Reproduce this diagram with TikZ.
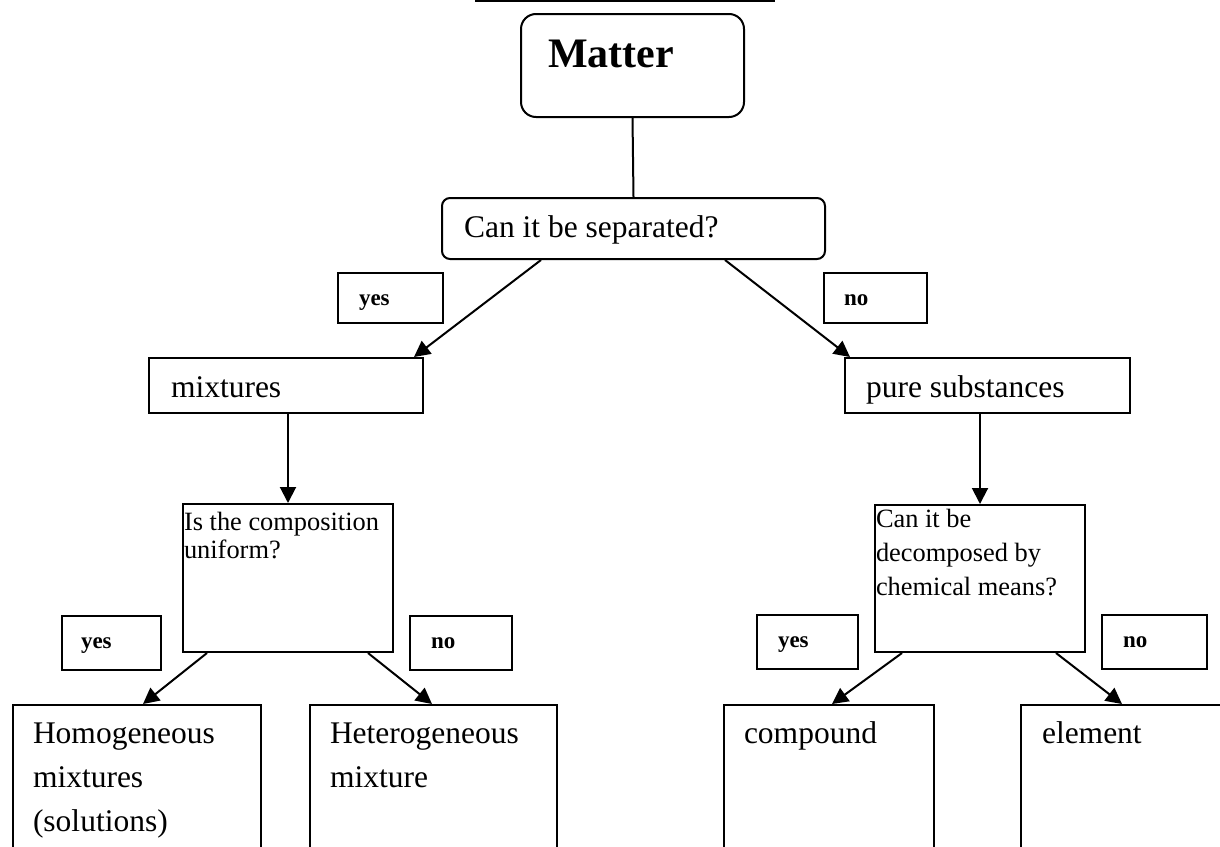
\documentclass[tikz,border=0pt]{standalone}
\usepackage{fontspec}
\setmainfont{Liberation Serif}
\usetikzlibrary{arrows.meta}
\begin{document}
\begin{tikzpicture}[x=1pt,y=-1pt,line width=2pt,
  box/.style={draw,line width=2pt,inner sep=0pt,anchor=north west},
  txt/.style={inner sep=0pt,anchor=base west,align=left,font=\fontsize{31.5}{44}\selectfont},
  midtxt/.style={inner sep=0pt,anchor=base west,align=left,font=\fontsize{26.4}{#1}\selectfont},
  lab/.style={inner sep=0pt,anchor=base west,font=\bfseries\fontsize{23}{26}\selectfont},
  arr/.style={-{Triangle[length=16pt,width=16pt]},line width=2pt}]
\useasboundingbox (0,0) rectangle (1220,846);
\clip (0,0) rectangle (1220,846);

% title underline (title text is cut off above the page)
\coordinate (ul1) at (475,1);
\coordinate (ul2) at (775,1);
\draw (ul1) -- (ul2);

% boxes
\node[box,rounded corners=15pt,minimum width=223pt,minimum height=103pt] (matter) at (520,13) {};
\node[box,rounded corners=8pt,minimum width=383pt,minimum height=61pt] (can) at (441,197) {};
\node[box,minimum width=105pt,minimum height=50pt] (yesA) at (337,272) {};
\node[box,minimum width=103pt,minimum height=50pt] (noA) at (823,272) {};
\node[box,minimum width=274pt,minimum height=55pt] (mix) at (148,357) {};
\node[box,minimum width=285pt,minimum height=55pt] (pure) at (844,357) {};
\node[box,minimum width=210pt,minimum height=148pt] (is) at (182,503) {};
\node[box,minimum width=210pt,minimum height=147pt] (dec) at (874,504) {};
\node[box,minimum width=99pt,minimum height=54pt] (yesB) at (61,615) {};
\node[box,minimum width=102pt,minimum height=54pt] (noB) at (409,615) {};
\node[box,minimum width=101pt,minimum height=54pt] (yesC) at (756,614) {};
\node[box,minimum width=105pt,minimum height=54pt] (noC) at (1101,614) {};
\node[box,minimum width=248pt,minimum height=170pt] (homo) at (12,704) {};
\node[box,minimum width=247pt,minimum height=170pt] (hetero) at (309,704) {};
\node[box,minimum width=210pt,minimum height=170pt] (comp) at (723,704) {};
\node[box,minimum width=230pt,minimum height=170pt] (elem) at (1020,704) {};

% texts (multi-line nodes are placed by the baseline of their last line)
\node[inner sep=0pt,anchor=base west,font=\bfseries\fontsize{42}{48}\selectfont] (matterT) at (547,67) {Matter};
\node[txt] (canT) at (463,237) {Can it be separated?};
\node[lab] (yesAT) at (358,305) {yes};
\node[lab] (noAT) at (843,305) {no};
\node[txt] (mixT) at (170,397) {mixtures};
\node[txt] (pureT) at (865,397) {pure substances};
\node[midtxt=28] (isT) at (183,558) {Is the composition\\uniform?};
\node[midtxt=34] (decT) at (875,595) {Can it be\\decomposed by\\chemical means?};
\node[lab] (yesBT) at (80,648) {yes};
\node[lab] (noBT) at (430,648) {no};
\node[lab] (yesCT) at (777,647) {yes};
\node[lab] (noCT) at (1122,647) {no};
\node[txt] (homoT) at (32,831) {Homogeneous\\mixtures\\(solutions)};
\node[txt] (heteroT) at (329,787) {Heterogeneous\\mixture};
\node[txt] (compT) at (743,743) {compound};
\node[txt] (elemT) at (1041,743) {element};

% connectors
\draw (matter.south) -- (can.north);
\draw[arr] ([xshift=100pt]can.south west) -- ([xshift=-10pt]mix.north east);
\draw[arr] ([xshift=-101pt]can.south east) -- ([xshift=6pt]pure.north west);
\draw[arr] (mix.south -| is.north) -- (is.north);
\draw[arr] (pure.south -| dec.north) -- (dec.north);
\draw[arr] ([xshift=25pt]is.south west) -- ([xshift=131pt]homo.north west);
\draw[arr] ([xshift=-26pt]is.south east) -- ([xshift=123pt]hetero.north west);
\draw[arr] ([xshift=28pt]dec.south west) -- ([xshift=109pt]comp.north west);
\draw[arr] ([xshift=-30pt]dec.south east) -- ([xshift=102pt]elem.north west);
\end{tikzpicture}
\end{document}
